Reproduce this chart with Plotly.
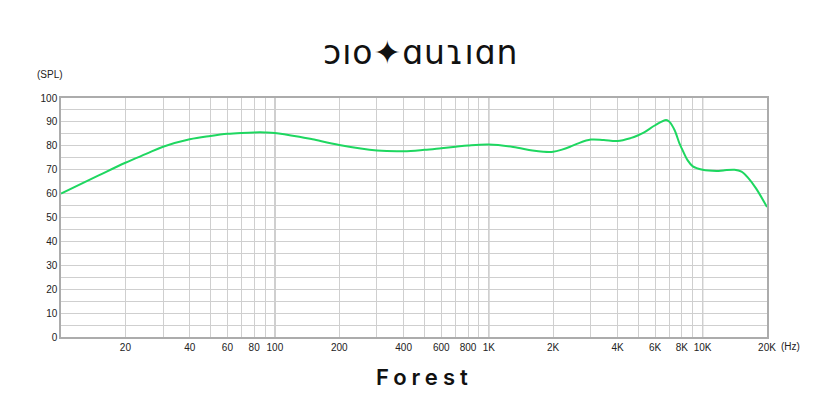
import plotly.graph_objects as go
import numpy as np

# Frequency response (Hz, dB SPL)
freq_hz = [10, 15, 20, 25, 30, 40, 50, 60, 70, 80, 90, 100, 130, 150, 200, 300, 400, 500,
           600, 700, 800, 1000, 1300, 1600, 1800, 2000, 2200, 2400, 2600, 3000, 3450, 4000,
           4600, 5000, 5300, 6000, 6750, 7000, 7400, 7800, 8000, 8500, 9000, 10000, 11600,
           12500, 14100, 15200, 16400, 17800, 20000]
spl_db = [60.0, 67.6, 72.9, 76.6, 79.6, 82.7, 84.1, 85.0, 85.4, 85.6, 85.6, 85.4, 83.8, 82.7,
          80.3, 78.0, 77.7, 78.3, 79.0, 79.6, 80.1, 80.5, 79.5, 78.0, 77.5, 77.5, 78.4, 79.6,
          80.9, 82.6, 82.4, 82.0, 83.2, 84.4, 85.5, 88.6, 90.8, 90.0, 86.5, 80.9, 78.8, 74.0,
          71.4, 70.0, 69.5, 69.7, 70.0, 69.2, 66.4, 62.1, 54.4]

x_tick_vals = [20, 40, 60, 80, 100, 200, 400, 600, 800, 1000, 2000, 4000, 6000, 8000, 10000, 20000]
x_tick_text = ["20", "40", "60", "80", "100", "200", "400", "600", "800", "1K",
               "2K", "4K", "6K", "8K", "10K", "20K"]
x_minor_vals = [m * d for d in (10, 100, 1000) for m in range(2, 10)] + [20000]
decade_lines = [100, 1000, 10000]
y_tick_vals = list(range(0, 101, 10))

title_text = "Forest"
logo_text = "ↄıo✦ɑuɿıɑn"

fig = go.Figure()
fig.add_trace(go.Scatter(
    x=freq_hz, y=spl_db, mode="lines",
    line=dict(color="#1ed760", width=2, shape="spline", smoothing=1.0),
    hoverinfo="x+y", showlegend=False,
))

for v in decade_lines:
    fig.add_shape(type="line", xref="x", yref="paper", x0=v, x1=v, y0=0, y1=1,
                  line=dict(color="#9a9a9a", width=1.2), layer="below")

tick_font = dict(family="Liberation Sans, Arial, sans-serif", size=10, color="#222")

fig.update_xaxes(
    type="log", range=[1, np.log10(20000)],
    tickmode="array", tickvals=x_tick_vals, ticktext=x_tick_text,
    showgrid=True, gridcolor="#cfcfcf", gridwidth=1,
    minor=dict(tickmode="array", tickvals=x_minor_vals, showgrid=True,
               gridcolor="#cfcfcf", gridwidth=1, ticks=""),
    showline=True, linecolor="#acacac", linewidth=1.5, mirror=True,
    ticks="", tickfont=tick_font, zeroline=False,
)
fig.update_yaxes(
    range=[0, 100], tickmode="array", tickvals=y_tick_vals,
    showgrid=True, gridcolor="#cfcfcf", gridwidth=1,
    minor=dict(dtick=5, showgrid=True, gridcolor="#cfcfcf", gridwidth=1, ticks=""),
    showline=True, linecolor="#acacac", linewidth=1.5, mirror=True,
    ticks="", tickfont=tick_font, zeroline=False,
)

fig.update_layout(
    width=840, height=420,
    margin=dict(l=53, r=81, t=90, b=91),
    paper_bgcolor="white", plot_bgcolor="white",
    annotations=[
        dict(text="(SPL)", xref="paper", yref="paper", x=-0.0155, y=1.1, showarrow=False,
             xanchor="center", yanchor="middle", font=tick_font),
        dict(text="(Hz)", xref="paper", yref="paper", x=1.033, y=-0.038, showarrow=False,
             xanchor="center", yanchor="middle", font=tick_font),
        dict(text='<span style="letter-spacing:5px">' + title_text + "</span>",
             xref="paper", yref="paper", x=0.515, y=-0.167, showarrow=False,
             xanchor="center", yanchor="middle",
             font=dict(family="Inter, Lato, sans-serif", size=22, color="#111", weight=600)),
        dict(text='<span style="letter-spacing:1px">' + logo_text + "</span>",
             xref="paper", yref="paper", x=0.51, y=1.19, showarrow=False,
             xanchor="center", yanchor="middle",
             font=dict(family="DejaVu Sans, sans-serif", size=33, color="#111", weight=400)),
    ],
)

fig.write_html("out.html")
